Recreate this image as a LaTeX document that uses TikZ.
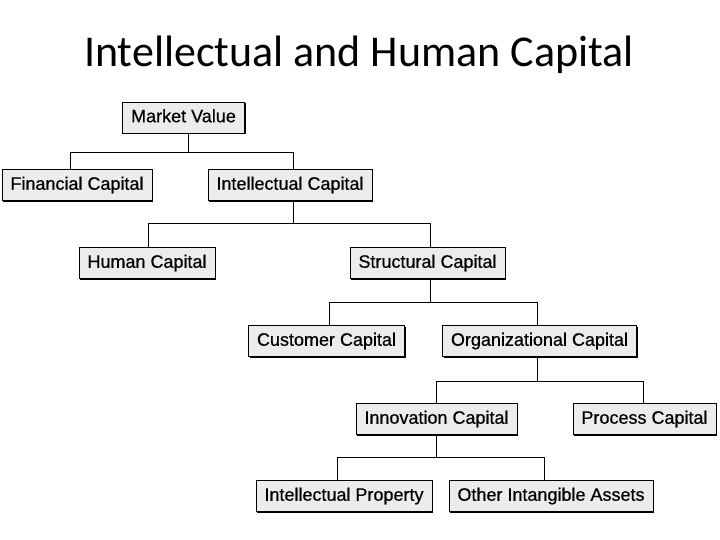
\documentclass[tikz,border=0pt]{standalone}
\usepackage{fontspec}
\setmainfont{Liberation Sans}
\newfontfamily\boxfont[FakeBold=0.5]{Liberation Sans}
\newfontfamily\titlefont{Carlito}
\usetikzlibrary{positioning,shadows}

\begin{document}
\begin{tikzpicture}[
  x=1pt, y=-1pt,
  box/.style={draw, line width=0.8pt, fill=gray!15, font=\boxfont\fontsize{18}{20}\selectfont,
              inner xsep=8.5pt, inner ysep=0pt, minimum height=31pt,
              text height=13pt, text depth=3.5pt,
              drop shadow={shadow xshift=1.4pt, shadow yshift=-1.4pt, fill=black, opacity=1}},
  link/.style={line width=0.9pt}
]
  \useasboundingbox (0,0) rectangle (720,540);
  % Title
  \node[font=\titlefont\fontsize{44}{50}\selectfont, anchor=base] (title) at (359,67)
    {Intellectual and Human Capital};
  % Boxes
  \node[box] (mv)  at (183.5,117.5) {Market Value};
  \node[box] (fin) at (77,185)      {Financial Capital};
  \node[box] (ic)  at (290,185)     {Intellectual Capital};
  \node[box] (hc)  at (147,263)     {Human Capital};
  \node[box] (sc)  at (427.5,263)   {Structural Capital};
  \node[box] (cc)  at (326.5,341)   {Customer Capital};
  \node[box] (oc)  at (539.5,341)   {Organizational Capital};
  \node[box] (inn) at (436.5,419)   {Innovation Capital};
  \node[box] (pc)  at (644.5,419)   {Process Capital};
  \node[box] (ip)  at (344,496)     {Intellectual Property};
  \node[box] (oia) at (551,496)     {Other Intangible Assets};
  % Connectors
  \draw[link] ([xshift=4.5pt]mv.south) -- ++(0,19) coordinate (b1);
  \draw[link] (b1) -| ([xshift=-7pt]fin.north);
  \draw[link] (b1) -| ([xshift=3pt]ic.north);
  \draw[link] ([xshift=3pt]ic.south) -- ++(0,22.5) coordinate (b2);
  \draw[link] (b2) -| ([xshift=1pt]hc.north);
  \draw[link] (b2) -| ([xshift=2.5pt]sc.north);
  \draw[link] ([xshift=2.5pt]sc.south) -- ++(0,23.5) coordinate (b3);
  \draw[link] (b3) -| ([xshift=2.5pt]cc.north);
  \draw[link] (b3) -| ([xshift=-2pt]oc.north);
  \draw[link] ([xshift=-2pt]oc.south) -- ++(0,24.5) coordinate (b4);
  \draw[link] (b4) -| (inn.north);
  \draw[link] (b4) -| ([xshift=-1.5pt]pc.north);
  \draw[link] (inn.south) -- ++(0,22.5) coordinate (b5);
  \draw[link] (b5) -| ([xshift=-7pt]ip.north);
  \draw[link] (b5) -| ([xshift=-7pt]oia.north);
\end{tikzpicture}
\end{document}
